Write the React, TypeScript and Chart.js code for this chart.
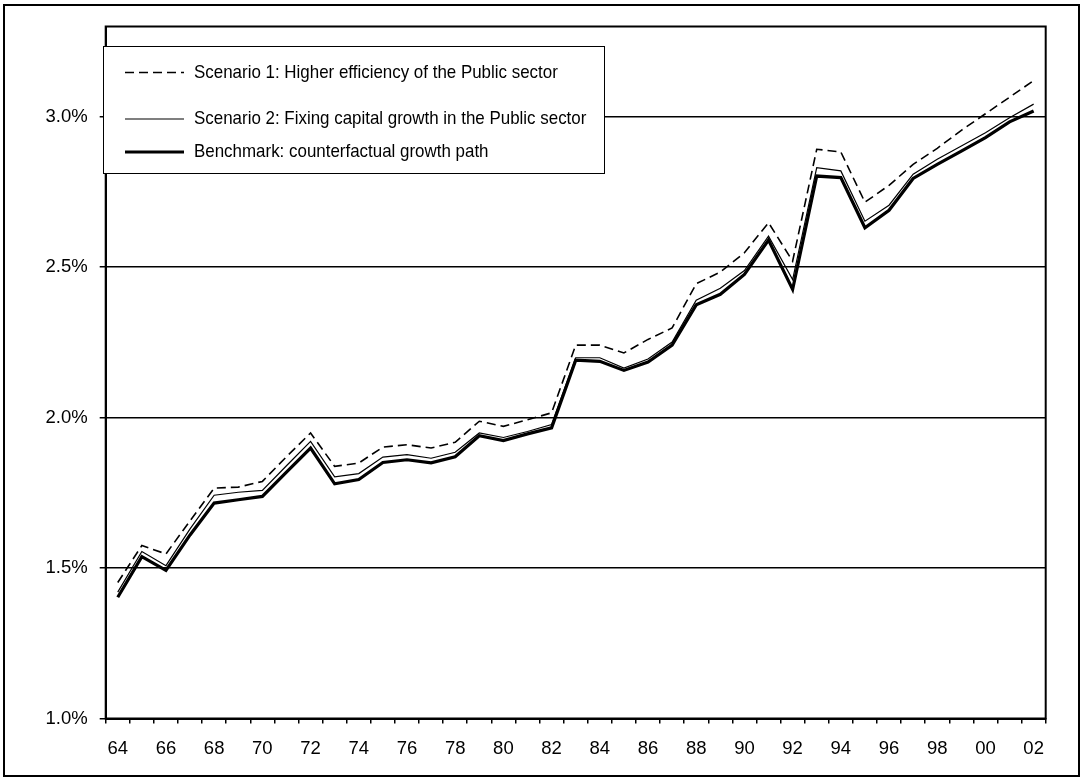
import React, { useEffect, useRef } from 'react';
import { Chart, registerables } from 'chart.js';

Chart.register(...registerables);

const years = [
  '64', '65', '66', '67', '68', '69', '70', '71', '72', '73',
  '74', '75', '76', '77', '78', '79', '80', '81', '82', '83',
  '84', '85', '86', '87', '88', '89', '90', '91', '92', '93',
  '94', '95', '96', '97', '98', '99', '00', '01', '02',
];

const scenario1 = [
  1.452, 1.575, 1.547, 1.657, 1.766, 1.769, 1.788, 1.870, 1.949, 1.838,
  1.849, 1.902, 1.910, 1.899, 1.918, 1.988, 1.971, 1.993, 2.016, 2.241,
  2.241, 2.215, 2.260, 2.298, 2.445, 2.484, 2.548, 2.648, 2.520, 2.892,
  2.883, 2.716, 2.772, 2.842, 2.895, 2.955, 3.010, 3.065, 3.120,
];

const scenario2 = [
  1.420, 1.555, 1.508, 1.630, 1.742, 1.752, 1.758, 1.840, 1.921, 1.803,
  1.814, 1.869, 1.877, 1.865, 1.885, 1.949, 1.934, 1.954, 1.977, 2.199,
  2.199, 2.165, 2.195, 2.251, 2.390, 2.430, 2.489, 2.603, 2.459, 2.831,
  2.820, 2.653, 2.706, 2.809, 2.859, 2.903, 2.947, 2.997, 3.042,
];

const benchmark = [
  1.403, 1.538, 1.492, 1.610, 1.716, 1.727, 1.738, 1.819, 1.899, 1.780,
  1.794, 1.851, 1.860, 1.850, 1.870, 1.940, 1.924, 1.946, 1.966, 2.191,
  2.187, 2.157, 2.185, 2.241, 2.375, 2.410, 2.476, 2.590, 2.426, 2.803,
  2.798, 2.631, 2.689, 2.795, 2.842, 2.886, 2.931, 2.983, 3.019,
];

const yTickValues = [1.0, 1.5, 2.0, 2.5, 3.0];

const seriesLabels = [
  'Scenario 1: Higher efficiency of the Public sector',
  'Scenario 2: Fixing capital growth in the Public sector',
  'Benchmark: counterfactual growth path',
];

const FONT_FAMILY = '"Liberation Sans", Arial, Helvetica, sans-serif';

export default function App() {
  const canvasRef = useRef<HTMLCanvasElement | null>(null);

  useEffect(() => {
    const canvas = canvasRef.current;
    if (!canvas) return;

    const framePlugin = {
      id: 'frameAndLegend',
      afterDraw(chart: any) {
        const ctx = chart.ctx as CanvasRenderingContext2D;
        const a = chart.chartArea;
        ctx.save();
        // plot area border
        ctx.strokeStyle = '#000';
        ctx.lineWidth = 2;
        ctx.strokeRect(a.left, a.top, a.right - a.left, a.bottom - a.top);
        // outer frame
        ctx.strokeRect(4, 5, 1075, 771);

        // legend box
        const bx = 103.5, by = 46.5, bw = 501, bh = 127;
        ctx.fillStyle = '#fff';
        ctx.fillRect(bx, by, bw, bh);
        ctx.lineWidth = 1;
        ctx.strokeStyle = '#000';
        ctx.strokeRect(bx, by, bw, bh);

        const rowY = [72.5, 119, 152];
        chart.data.datasets.forEach((ds: any, i: number) => {
          const y = rowY[i];
          ctx.save();
          ctx.strokeStyle = '#000';
          ctx.lineWidth = ds.borderWidth;
          ctx.setLineDash(ds.borderDash || []);
          ctx.beginPath();
          ctx.moveTo(125, y);
          ctx.lineTo(184, y);
          ctx.stroke();
          ctx.restore();

          ctx.save();
          ctx.fillStyle = '#000';
          ctx.font = '18.5px ' + FONT_FAMILY;
          ctx.textBaseline = 'middle';
          ctx.textAlign = 'left';
          ctx.translate(194, y);
          ctx.scale(0.915, 1);
          ctx.fillText(ds.label, 0, 0);
          ctx.restore();
        });
        ctx.restore();
      },
    };

    const chart = new Chart(canvas, {
      type: 'line',
      data: {
        labels: years,
        datasets: [
          {
            label: seriesLabels[0],
            data: scenario1,
            borderColor: '#000',
            borderWidth: 1.6,
            borderDash: [9, 5],
            pointRadius: 0,
            tension: 0,
            fill: false,
            borderJoinStyle: 'miter',
          },
          {
            label: seriesLabels[1],
            data: scenario2,
            borderColor: '#000',
            borderWidth: 1.2,
            pointRadius: 0,
            tension: 0,
            fill: false,
            borderJoinStyle: 'miter',
          },
          {
            label: seriesLabels[2],
            data: benchmark,
            borderColor: '#000',
            borderWidth: 3.2,
            pointRadius: 0,
            tension: 0,
            fill: false,
            borderJoinStyle: 'miter',
          },
        ],
      },
      options: {
        responsive: false,
        animation: false,
        devicePixelRatio: 1,
        layout: { padding: { left: 0, top: 26.5, right: 37.3, bottom: 0 } },
        plugins: {
          legend: { display: false },
          tooltip: { enabled: false },
          title: { display: false },
        },
        scales: {
          x: {
            type: 'category',
            offset: true,
            grid: {
              offset: true,
              drawOnChartArea: false,
              drawTicks: true,
              tickLength: 5,
              color: '#000',
              lineWidth: 1.5,
            },
            border: { display: true, color: '#000', width: 2 },
            ticks: {
              autoSkip: false,
              maxRotation: 0,
              minRotation: 0,
              padding: 14,
              color: '#000',
              font: { family: FONT_FAMILY, size: 18.5 },
              callback: (_v: any, i: number) => (i % 2 === 0 ? years[i] : ''),
            },
            afterFit: (scale: any) => {
              scale.height = 62.5;
            },
          },
          y: {
            type: 'linear',
            min: 1.0,
            max: 3.3,
            grid: {
              color: '#000',
              lineWidth: 1.5,
              drawTicks: true,
              tickLength: 6,
            },
            border: { display: true, color: '#000', width: 2 },
            ticks: {
              padding: 12,
              color: '#000',
              font: { family: FONT_FAMILY, size: 18.5 },
              callback: (v: any) => Number(v).toFixed(1) + '%',
            },
            afterBuildTicks: (scale: any) => {
              scale.ticks = yTickValues.map((v) => ({ value: v }));
            },
            afterFit: (scale: any) => {
              scale.width = 105.7;
            },
          },
        },
      },
      plugins: [framePlugin],
    } as any);

    return () => {
      chart.destroy();
    };
  }, []);

  return (
    <div
      style={{
        position: 'fixed',
        left: 0,
        top: 0,
        width: 1083,
        height: 781,
        background: '#fff',
      }}
    >
      <canvas
        ref={canvasRef}
        width={1083}
        height={781}
        style={{ display: 'block', width: 1083, height: 781 }}
      />
    </div>
  );
}
